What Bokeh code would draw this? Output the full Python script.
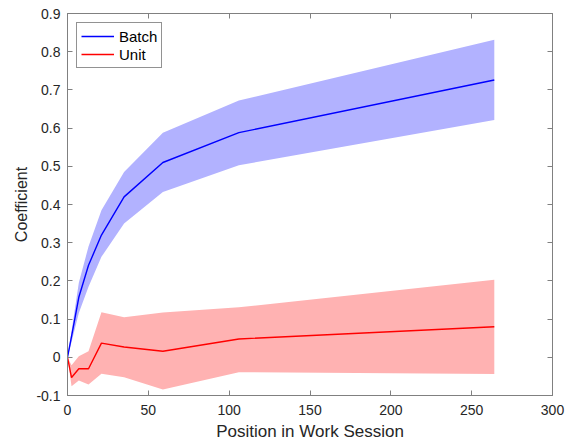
from bokeh.plotting import figure
from bokeh.models import LinearAxis, FixedTicker, Range1d, Legend, LegendItem
from bokeh.embed import file_html
from bokeh.resources import INLINE

# ---- data ----
position = [0, 2.5, 7, 13, 21, 35, 59, 106, 264]

batch_mean = [0, 0.055, 0.157, 0.241, 0.320, 0.420, 0.510, 0.588, 0.726]
batch_lo = [0, 0.040, 0.116, 0.185, 0.263, 0.350, 0.433, 0.503, 0.621]
batch_hi = [0, 0.068, 0.195, 0.290, 0.385, 0.485, 0.588, 0.672, 0.831]

unit_mean = [0, -0.053, -0.030, -0.030, 0.037, 0.027, 0.016, 0.048, 0.080]
unit_lo = [0, -0.076, -0.061, -0.071, -0.043, -0.052, -0.084, -0.039, -0.044]
unit_hi = [0, -0.021, 0.003, 0.016, 0.118, 0.105, 0.117, 0.131, 0.203]

x_ticks = [0, 50, 100, 150, 200, 250, 300]
x_tick_labels = ["0", "50", "100", "150", "200", "250", "300"]
y_ticks = [-0.1, 0, 0.1, 0.2, 0.3, 0.4, 0.5, 0.6, 0.7, 0.8, 0.9]
y_tick_labels = ["-0.1", "0", "0.1", "0.2", "0.3", "0.4", "0.5", "0.6", "0.7", "0.8", "0.9"]

FONT = "Liberation Sans"
TXT = "#262626"
AX = "#808080"

p = figure(width=579, height=443, output_backend="svg", toolbar_location=None,
           x_range=Range1d(0, 300), y_range=Range1d(-0.1, 0.9),
           min_border_left=67, min_border_right=27, min_border_top=13, min_border_bottom=47,
           x_axis_label="Position in Work Session", y_axis_label="Coefficient")
p.grid.visible = False
p.outline_line_color = AX
p.background_fill_color = "white"
p.border_fill_color = "white"

def style(ax, ticks, labels, show):
    ax.ticker = FixedTicker(ticks=ticks)
    ax.major_label_overrides = {t: l for t, l in zip(ticks, labels)}
    ax.major_tick_in = 5
    ax.major_tick_out = 0
    ax.minor_tick_line_color = None
    ax.axis_line_color = AX
    ax.major_tick_line_color = AX
    ax.major_label_text_font = FONT
    ax.major_label_text_color = TXT
    ax.axis_label_text_font = FONT
    ax.axis_label_text_color = TXT
    ax.axis_label_text_font_style = "normal"
    ax.axis_label_text_font_size = "17px"
    if show:
        ax.major_label_text_font_size = "14px"
    else:
        ax.major_label_text_font_size = "0px"
        ax.major_label_standoff = 0

style(p.xaxis[0], x_ticks, x_tick_labels, True)
style(p.yaxis[0], y_ticks, y_tick_labels, True)
p.xaxis[0].major_label_standoff = 9
p.xaxis[0].axis_label_standoff = 4
p.yaxis[0].major_label_standoff = 7
p.yaxis[0].axis_label_standoff = 3
p.yaxis[0].axis_label_text_font_size = "16px"

top = LinearAxis()
right = LinearAxis()
style(top, x_ticks, [""] * len(x_ticks), False)
style(right, y_ticks, [""] * len(y_ticks), False)
p.add_layout(top, "above")
p.add_layout(right, "right")

p.varea(x=position, y1=batch_lo, y2=batch_hi, fill_color="#b2b2ff", fill_alpha=1.0)
p.varea(x=position, y1=unit_lo, y2=unit_hi, fill_color="#ffb2b2", fill_alpha=1.0)
lb = p.line(position, batch_mean, line_color="#0000ff", line_width=1.4)
lu = p.line(position, unit_mean, line_color="#ff0000", line_width=1.4)

legend = Legend(items=[LegendItem(label="Batch", renderers=[lb]),
                       LegendItem(label="Unit", renderers=[lu])],
                location="top_left")
legend.margin = 9
legend.padding = 4
legend.spacing = 0
legend.glyph_width = 33
legend.glyph_height = 18
legend.label_height = 18
legend.label_standoff = 5
legend.label_text_font = FONT
legend.label_text_font_size = "15px"
legend.label_text_color = "black"
legend.border_line_color = "#262626"
legend.border_line_width = 1
legend.background_fill_color = "white"
legend.background_fill_alpha = 1.0
p.add_layout(legend, "center")

open("out.html", "w").write(file_html(p, INLINE))
